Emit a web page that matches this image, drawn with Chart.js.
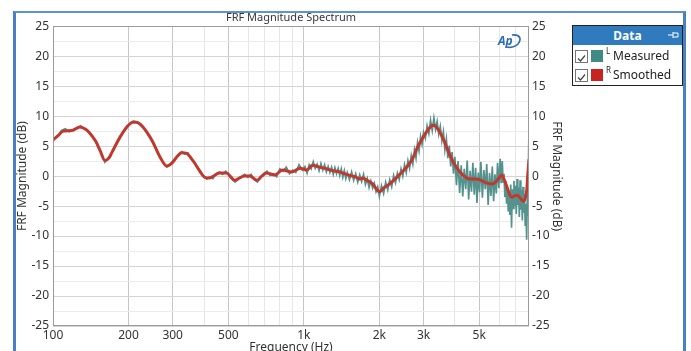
<!DOCTYPE html>
<html><head><meta charset="utf-8">
<script src="https://cdn.jsdelivr.net/npm/chart.js@4.4.1/dist/chart.umd.min.js"></script>
<style>
html,body{margin:0;padding:0;background:#fff;overflow:hidden;width:691px;height:351px;}
#wrap{position:relative;width:691px;height:351px;overflow:hidden;background:#fff;}
#c{position:absolute;left:0;top:0;}
#frame{position:absolute;left:13px;top:11px;width:667px;height:400px;border:3px solid #4a7fc1;border-top:2px solid #5f92cf;pointer-events:none;}
#legend{position:absolute;left:572px;top:25px;width:109px;height:59px;border:1px solid #222;background:#fff;font-family:'Noto Sans','Open Sans',sans-serif;font-size:12px;color:#222;}
#lhead{position:absolute;left:0;top:0;width:109px;height:19px;background:#2f7bbd;color:#fff;font-weight:bold;text-align:center;line-height:19px;font-size:12px;}
#pin{position:absolute;right:3px;top:5px;}
.row{position:absolute;left:0;width:109px;height:20px;}
.chk{position:absolute;left:2px;top:4px;width:11px;height:11px;border:1px solid #777;background:#fff;}
.sw{position:absolute;left:18px;top:4px;width:12px;height:12px;}
.sup{position:absolute;left:33px;top:0px;font-size:8px;line-height:10px;}
.lab{position:absolute;left:40px;top:1px;line-height:18px;font-size:12px;}
#ap{position:absolute;left:497px;top:33px;width:25px;height:16px;}
</style></head>
<body>
<div id="wrap">
<canvas id="c" width="691" height="362"></canvas>
<div id="frame"></div>
<div id="ap"><svg width="25" height="16" viewBox="0 0 25 16"><path d="M15 2 C23 1 25 6 21 11 C18 14 13 15 10 14" fill="none" stroke="#2b6cb5" stroke-width="1.6"/><text x="1" y="12" font-family="'Noto Sans',sans-serif" font-size="12" font-style="italic" font-weight="bold" fill="#2b6cb5">Ap</text></svg></div>
<div id="legend">
  <div id="lhead">Data<svg id="pin" width="11" height="8" viewBox="0 0 11 8"><path d="M0 4 H5 M5 1 V7 M5 2 H10 V6 H5" fill="none" stroke="#fff" stroke-width="1"/></svg></div>
  <div class="row" style="top:20px"><span class="chk"><svg width="11" height="11" viewBox="0 0 11 11"><path d="M2 5.5 L4.5 8 L9 2.5" fill="none" stroke="#444" stroke-width="1.2"/></svg></span><span class="sw" style="background:#3f8a82"></span><span class="sup">L</span><span class="lab">Measured</span></div>
  <div class="row" style="top:39px"><span class="chk"><svg width="11" height="11" viewBox="0 0 11 11"><path d="M2 5.5 L4.5 8 L9 2.5" fill="none" stroke="#444" stroke-width="1.2"/></svg></span><span class="sw" style="background:#c8231f"></span><span class="sup">R</span><span class="lab">Smoothed</span></div>
</div>
</div>
<script>
// ---- Data ----
const chartTitle = 'FRF Magnitude Spectrum';
const xAxisTitle = 'Frequency (Hz)';
const yAxisTitle = 'FRF Magnitude (dB)';

const xMajorTicks = [100, 200, 300, 500, 1000, 2000, 3000, 5000];
const xMajorLabels = ['100', '200', '300', '500', '1k', '2k', '3k', '5k'];
const xMinorTicks = [400, 600, 700, 800, 900, 4000, 6000, 7000];

// Smoothed (R) curve
const smoothFreq = [
  100,105,110,119,128,135,140,148,154,161,
  167,172,185,197,208,215,222,237,250,267,
  284,300,313,326,341,355,368,385,403,422,
  440,461,493,510,530,555,580,609,650,680,
  710,766,822,896,967,1025,1082,1155,1211,1305,
  1390,1450,1524,1600,1670,1715,1800,1880,2000,2080,
  2165,2280,2400,2520,2650,2760,2830,2960,3090,3180,
  3260,3330,3400,3520,3640,3760,3880,4000,4100,4230,
  4360,4500,4660,4840,5020,5200,5410,5660,5800,5930,
  6080,6150,6250,6430,6600,6740,6920,7100,7300,7520,
  7650,7740,7820,7900];
const smoothDb = [
  6.0,6.8,7.5,7.6,8.2,7.8,7.2,5.8,4.3,2.6,
  3.0,4.0,6.5,8.2,9.0,9.0,8.7,7.3,5.7,3.2,
  1.7,2.3,3.3,3.9,3.8,3.0,2.1,0.8,-0.2,-0.3,
  0.1,0.5,0.5,-0.1,-0.7,-0.3,0.0,0.0,-0.7,0.0,
  0.5,0.2,1.0,0.7,1.3,1.0,1.8,1.5,1.3,0.9,
  0.7,0.4,0.1,-0.1,-0.5,-0.3,-0.8,-1.3,-2.6,-2.0,
  -1.5,-0.7,0.2,1.1,2.2,3.6,4.7,6.2,7.4,8.1,
  8.5,8.4,8.0,7.0,5.7,4.2,2.9,1.9,1.2,0.5,
  0.0,-0.4,-0.5,-0.5,-0.6,-0.9,-1.2,-1.3,-1.0,-0.6,
  0.0,0.2,-0.3,-1.6,-3.0,-3.5,-3.3,-3.2,-3.7,-4.2,
  -3.5,-2.3,0.5,2.8];

// Measured (L) curve
const measuredFreq = [
  100,104,108,112,116,120,125,129,133,138,
  143,148,152,157,161,165,170,176,182,189,
  196,203,210,217,225,232,240,248,257,266,
  275,284,292,300,308,317,326,335,345,355,
  365,376,387,398,410,422,434,447,460,474,
  488,502,517,532,548,564,581,598,616,634,
  653,672,692,713,734,756,779,802,826,851,
  876,902,929,957,986,
  1010,1030,1050,1070,1090,1110,1130,1150,1170,1190,
  1210,1230,1250,1270,1290,1310,1330,1350,1370,1390,
  1410,1430,1450,1470,1490,1520,1550,1580,1610,1640,
  1670,1700,1730,1760,1790,1820,1850,1880,1910,1940,
  1970,2000,
  2040,2080,2120,2160,2200,2240,2280,2320,2360,2400,
  2440,2480,2520,2560,2600,2640,2680,2720,2760,2800,
  2840,2880,2920,2960,3000,
  3050,3100,3150,3200,3250,3300,3350,3400,3450,3500,
  3550,3600,3650,3700,3750,3800,3850,3900,3950,4000,
  4060,4120,4180,4240,4300,4360,4420,4480,4540,4600,
  4660,4720,4780,4840,4900,4960,5020,5080,
  5150,5220,5290,5360,5430,5500,5570,5640,5710,5780,
  5850,5920,5990,6060,6120,6180,
  6230,6280,6330,6380,6430,6480,6530,6580,6630,6680,
  6730,6780,6830,6880,6930,6980,7030,7080,7130,7180,
  7230,7280,7330,7380,7430,7480,7530,7580,7630,7680,
  7730,7780,7830,7870,7900];
const measuredDb = [
  6.2,6.5,7.6,7.9,7.4,7.7,8.0,8.4,7.9,7.5,
  6.7,5.9,4.6,3.5,2.3,2.9,3.6,4.9,6.0,7.1,
  8.0,8.8,9.2,8.9,8.4,7.9,6.8,5.9,4.5,3.3,
  2.2,1.5,1.9,2.5,2.9,3.7,4.1,3.7,3.9,2.9,
  2.4,1.4,0.9,-0.1,-0.5,-0.1,-0.4,0.4,0.7,0.3,
  0.8,0.2,-0.5,-1.0,-0.5,-0.1,0.3,-0.2,0.3,-0.6,
  -1.0,-0.2,0.4,0.8,0.1,0.4,-0.1,1.2,0.8,1.5,
  0.4,1.0,0.6,1.9,1.0,
  1.6,0.5,1.9,1.2,2.4,1.3,2.0,0.9,2.1,1.0,
  1.9,0.7,1.6,0.6,1.5,0.3,1.4,0.4,1.3,0.1,
  1.2,-0.2,0.9,-0.4,0.6,-0.6,0.7,-0.7,0.4,-1.0,
  0.2,-0.9,0.3,-1.4,-0.4,-1.9,-0.8,-2.0,-1.2,-2.6,
  -1.8,-3.4,
  -1.6,-2.9,-1.0,-2.3,-0.6,-1.8,0.1,-1.1,0.5,-0.6,
  1.2,0.0,1.9,0.6,2.6,1.3,3.4,2.0,4.4,3.0,
  5.6,4.2,6.6,5.3,7.3,
  6.3,8.4,7.1,9.3,7.6,9.7,7.8,9.1,7.0,8.3,
  5.9,7.4,4.4,6.2,3.0,5.1,1.6,4.0,0.4,3.2,
  -1.5,2.5,-2.8,1.8,-3.4,1.2,-2.2,2.6,-3.9,0.9,
  -2.6,2.2,-3.1,1.4,-4.5,0.6,-2.7,2.4,
  -3.6,1.0,-2.2,2.0,-4.8,0.5,-3.3,1.6,-4.2,0.3,
  -2.9,2.2,-2.0,2.9,-1.2,2.5,
  -1.0,0.4,-3.5,-0.8,-4.6,-2.0,-5.9,-2.6,-6.5,-1.4,
  -8.6,-2.2,-5.4,-0.8,-5.0,-1.6,-6.3,-0.5,-4.8,-1.9,
  -6.8,-0.7,-5.6,-2.3,-7.4,-1.8,-6.1,-3.0,-8.2,-4.6,
  -10.6,-3.0,-6.5,3.5,7.8];

// ---- Chart ----
const FONT = "'Noto Sans','Open Sans',sans-serif";
const TXT = '#333333';
const isMajorX = v => xMajorTicks.includes(v);

const framePlugin = {
  id: 'plotFrame',
  afterDraw(chart) {
    const a = chart.chartArea, c = chart.ctx;
    c.save();
    c.strokeStyle = '#9a9a9a';
    c.lineWidth = 1;
    c.strokeRect(Math.round(a.left) + 0.5, Math.round(a.top) + 0.5, Math.round(a.right - a.left) - 1, Math.round(a.bottom - a.top) - 1);
    c.restore();
  }
};

const yTickCb = v => (Math.abs(v % 5) < 1e-9 ? String(v) : '');
const yGridColor = ctx => (ctx.tick && Math.abs(ctx.tick.value % 5) < 1e-9) ? '#d4d4d4' : '#ececec';

new Chart(document.getElementById('c'), {
  type: 'line',
  data: {
    datasets: [
      {
        label: 'Smoothed',
        data: smoothFreq.map((f, i) => ({ x: f, y: smoothDb[i] })),
        borderColor: '#c0392f', borderWidth: 3, pointRadius: 0, tension: 0.4,
        cubicInterpolationMode: 'monotone', order: 0, fill: false
      },
      {
        label: 'Measured',
        data: measuredFreq.map((f, i) => ({ x: f, y: measuredDb[i] })),
        borderColor: '#55928d', borderWidth: 1.7, pointRadius: 0, tension: 0,
        order: 1, fill: false
      }
    ]
  },
  options: {
    responsive: false, animation: false, devicePixelRatio: 1,
    layout: { padding: { left: 0, right: 122, top: 0, bottom: 0 } },
    plugins: {
      legend: { display: false }, tooltip: { enabled: false },
      title: {
        display: true, text: chartTitle, fullSize: false,
        font: { family: FONT, size: 11, weight: 'normal' }, color: '#3a3340',
        padding: { top: 11, bottom: 2 }
      }
    },
    scales: {
      x: {
        type: 'logarithmic', min: 100, max: 7900,
        afterBuildTicks: s => { s.ticks = xMajorTicks.concat(xMinorTicks).sort((a, b) => a - b).map(v => ({ value: v })); },
        afterFit: s => { s.height = 36; },
        ticks: {
          autoSkip: false, maxRotation: 0, padding: 2, color: TXT,
          font: { family: FONT, size: 12 },
          callback: v => { const i = xMajorTicks.indexOf(v); return i >= 0 ? xMajorLabels[i] : ''; }
        },
        grid: { drawTicks: false, color: ctx => (ctx.tick && isMajorX(ctx.tick.value)) ? '#c6c6c6' : '#e6e6e6' },
        border: { display: false },
        title: { display: true, text: xAxisTitle, color: TXT, font: { family: FONT, size: 12 }, padding: { top: 0, bottom: 7 } }
      },
      y: {
        position: 'left', min: -25, max: 25,
        afterFit: s => { s.width = 53; },
        ticks: { stepSize: 2.5, autoSkip: false, padding: 4, color: TXT, font: { family: FONT, size: 12 }, callback: yTickCb },
        grid: { drawTicks: false, color: yGridColor },
        border: { display: false },
        title: { display: true, text: yAxisTitle, color: TXT, font: { family: FONT, size: 12 }, padding: { top: 15, bottom: 0 } }
      },
      y2: {
        position: 'right', min: -25, max: 25,
        afterFit: s => { s.width = 40; },
        ticks: { stepSize: 2.5, autoSkip: false, padding: 3, color: TXT, font: { family: FONT, size: 12 }, callback: yTickCb },
        grid: { drawTicks: false, drawOnChartArea: false },
        border: { display: false },
        title: { display: true, text: yAxisTitle, color: TXT, font: { family: FONT, size: 12 }, padding: { top: 5, bottom: 0 } }
      }
    }
  },
  plugins: [framePlugin]
});
</script>
</body></html>
